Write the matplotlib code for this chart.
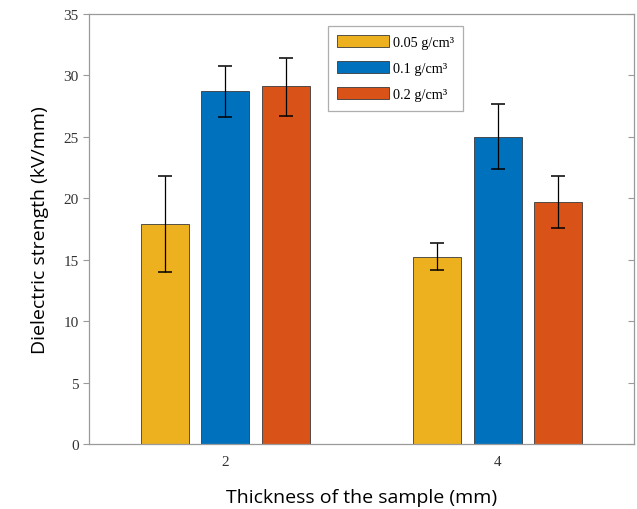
import matplotlib
matplotlib.use("Agg")
import matplotlib.pyplot as plt
import numpy as np

categories = ["2", "4"]
series_labels = ["0.05 g/cm³", "0.1 g/cm³", "0.2 g/cm³"]
means = [
    [17.9, 15.2],   # 0.05
    [28.7, 25.0],   # 0.1
    [29.1, 19.7],   # 0.2
]
err_low = [
    [3.9, 1.05],
    [2.1, 2.6],
    [2.4, 2.1],
]
err_high = [
    [3.95, 1.15],
    [2.1, 2.7],
    [2.35, 2.1],
]
colors = ["#EDB120", "#0072BD", "#D95319"]

fig = plt.figure(figsize=(6.37, 5.10), dpi=100)
ax = fig.add_axes([0.1397, 0.1275, 0.8556, 0.8431])

x = np.arange(1, len(categories) + 1)
width = 0.176
offset = 0.222
for i in range(3):
    xp = x + (i - 1) * offset
    ax.bar(xp, means[i], width=width, color=colors[i], edgecolor="#3a3a3a",
           linewidth=0.6, label=series_labels[i], zorder=2)
    ax.errorbar(xp, means[i], yerr=[err_low[i], err_high[i]], fmt="none",
                ecolor="black", elinewidth=0.9, capsize=5, capthick=1.1, zorder=3)

ax.set_xlim(0.5, 2.5)
ax.set_ylim(0, 35)
ax.set_xticks(x)
ax.set_xticklabels(categories)
ax.set_yticks(np.arange(0, 36, 5))

for s in ax.spines.values():
    s.set_color("#9a9a9a")
    s.set_linewidth(0.9)

ax.tick_params(axis="y", which="both", direction="out", length=4, color="#9a9a9a",
               labelsize=11, right=False)
ax.tick_params(axis="x", direction="in", length=3, color="#9a9a9a", labelsize=11, pad=8)
for lab in ax.get_xticklabels() + ax.get_yticklabels():
    lab.set_fontfamily("Liberation Serif")
    lab.set_color("#333333")

# inward ticks on the right side
ax2 = ax.twinx()
ax2.set_ylim(ax.get_ylim())
ax2.set_yticks(np.arange(0, 36, 5))
ax2.tick_params(axis="y", direction="in", length=4, color="#9a9a9a", labelright=False)
for s in ax2.spines.values():
    s.set_visible(False)

ax.set_xlabel("Thickness of the sample (mm)", fontsize=14, fontfamily="Open Sans", labelpad=14)
ax.set_ylabel("Dielectric strength (kV/mm)", fontsize=14, fontfamily="Open Sans", labelpad=10)

leg = ax2.legend(*ax.get_legend_handles_labels(),
                 loc="upper left", bbox_to_anchor=(0.4385, 0.972), frameon=True, fancybox=False,
                 prop={"family": "Liberation Serif", "size": 10.3}, handlelength=3.6,
                 handleheight=0.9, borderpad=0.65, labelspacing=0.85, handletextpad=0.3,
                 borderaxespad=0)
leg.get_frame().set_edgecolor("#9a9a9a")
leg.get_frame().set_linewidth(0.9)

fig.savefig("out.png", dpi=100)
